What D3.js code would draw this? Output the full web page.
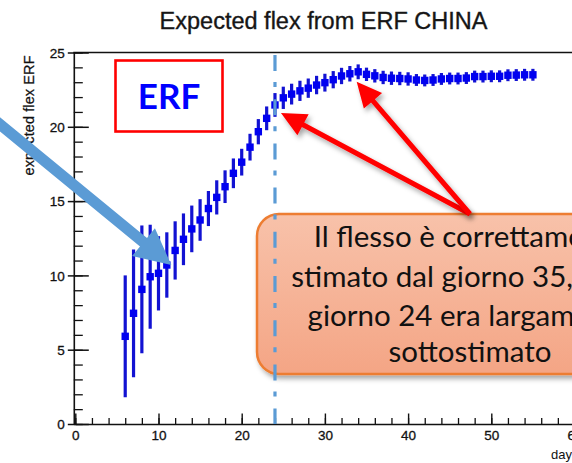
<!DOCTYPE html>
<html>
<head>
<meta charset="utf-8">
<script src="https://cdn.jsdelivr.net/npm/d3@7"></script>
<style>
  html, body { margin: 0; padding: 0; background: #fff; overflow: hidden; }
  svg { display: block; }
</style>
</head>
<body>
<svg id="chart" width="572" height="463"></svg>
<script>
// Expected inflection day fitted with an ERF model, one estimate per day of data
const days = [6, 7, 8, 9, 10, 11, 12, 13, 14, 15, 16, 17, 18, 19, 20, 21, 22, 23, 24, 25,
              26, 27, 28, 29, 30, 31, 32, 33, 34, 35, 36, 37, 38, 39, 40, 41, 42, 43, 44, 45,
              46, 47, 48, 49, 50, 51, 52, 53, 54, 55];
const flexValues = [5.9, 7.45, 9.06, 9.91, 10.14, 10.7, 11.68, 12.43, 13.13, 13.73,
                    14.5, 15.25, 15.97, 16.87, 17.62, 18.63, 19.67, 20.57, 21.47, 21.95,
                    22.2, 22.42, 22.6, 22.81, 22.97, 23.17, 23.42, 23.57, 23.7, 23.53,
                    23.43, 23.32, 23.27, 23.25, 23.22, 23.15, 23.12, 23.15, 23.22, 23.25,
                    23.25, 23.28, 23.38, 23.38, 23.4, 23.4, 23.47, 23.48, 23.5, 23.5];
const flexErrors = [4.1, 4.3, 4.3, 3.5, 2.5, 2.2, 1.96, 1.74, 1.57, 1.4,
                    1.18, 1.15, 1.1, 1.0, 0.9, 0.9, 0.85, 0.8, 0.8, 0.75,
                    0.7, 0.68, 0.65, 0.62, 0.6, 0.58, 0.55, 0.52, 0.5, 0.45,
                    0.45, 0.45, 0.45, 0.45, 0.45, 0.4, 0.4, 0.4, 0.4, 0.4,
                    0.4, 0.4, 0.4, 0.4, 0.4, 0.4, 0.4, 0.4, 0.4, 0.4];

const xMajorTicks = [0, 10, 20, 30, 40, 50, 60];
const yMajorTicks = [0, 5, 10, 15, 20, 25];

const titleText = "Expected flex from ERF CHINA";
const yTitleText = "expected flex ERF";
const xTitleText = "days";
const badgeText = "ERF";
const noteLines = ["Il flesso è correttamente",
                   "stimato dal giorno 35, ma al",
                   "giorno 24 era largamente",
                   "sottostimato"];

// Day of the early (underestimated) fit and of the stable estimate
const earlyDay = 24;
const stableDay = 34;
const arrowDay = 11;

const svg = d3.select("#chart");
const x = d3.scaleLinear().domain([0, 60]).range([75.3, 574.5]);
const y = d3.scaleLinear().domain([0, 25]).range([424, 52.5]);

const defs = svg.append("defs");
const shadow = defs.append("filter").attr("id", "shadow")
  .attr("x", "-20%").attr("y", "-20%").attr("width", "140%").attr("height", "150%");
shadow.append("feDropShadow").attr("dx", 2.5).attr("dy", 3.5)
  .attr("stdDeviation", 2.5).attr("flood-color", "#000").attr("flood-opacity", 0.35);

const grad = defs.append("linearGradient").attr("id", "noteFill")
  .attr("x1", 0).attr("y1", 0).attr("x2", 0).attr("y2", 1);
grad.append("stop").attr("offset", "0%").attr("stop-color", "#f8c2aa");
grad.append("stop").attr("offset", "100%").attr("stop-color", "#f4a585");

// Title
svg.append("text")
  .attr("x", 323.5).attr("y", 28.5)
  .attr("text-anchor", "middle")
  .attr("font-family", "Liberation Sans, Arial, sans-serif")
  .attr("font-size", 23.5)
  .attr("fill", "#161616")
  .attr("stroke", "#161616").attr("stroke-width", 0.35)
  .text(titleText);

// Frame top edge
svg.append("line")
  .attr("x1", x(0) - 2).attr("x2", 572)
  .attr("y1", y(25)).attr("y2", y(25))
  .attr("stroke", "#111").attr("stroke-width", 1.3);

const axisFont = g => g.selectAll("text")
  .attr("font-family", "Liberation Sans, Arial, sans-serif")
  .attr("font-size", 13.5)
  .attr("fill", "#111")
  .attr("stroke", "#111").attr("stroke-width", 0.3);

// X axis: minor ticks every 2 days, labelled majors every 10
svg.append("g")
  .attr("transform", `translate(0,${y(0)})`)
  .call(d3.axisBottom(x).tickValues(d3.range(0, 61, 2)).tickSize(-6).tickSizeOuter(0).tickFormat(""))
  .call(g => g.select(".domain").remove())
  .call(g => g.selectAll("line").attr("stroke", "#111").attr("stroke-width", 1.3));
svg.append("g")
  .attr("transform", `translate(0,${y(0)})`)
  .call(d3.axisBottom(x).tickValues(xMajorTicks).tickSize(-10.5).tickSizeOuter(0).tickPadding(6).tickFormat(d3.format("d")))
  .call(g => g.select(".domain").attr("stroke", "#111").attr("stroke-width", 1.6))
  .call(g => g.selectAll("line").attr("stroke", "#111").attr("stroke-width", 1.4))
  .call(axisFont);

// Y axis: minor ticks every unit, labelled majors every 5 (majors cross the axis)
svg.append("g")
  .attr("transform", `translate(${x(0) - 1.5},0)`)
  .call(d3.axisLeft(y).tickValues(d3.range(0, 26, 1)).tickSize(-9).tickSizeOuter(0).tickFormat(""))
  .call(g => g.select(".domain").remove())
  .call(g => g.selectAll("line").attr("stroke", "#111").attr("stroke-width", 1.3));
svg.append("g")
  .attr("transform", `translate(${x(0) - 1.5},0)`)
  .call(d3.axisLeft(y).tickValues(yMajorTicks).tickSize(-15).tickSizeOuter(0).tickPadding(9).tickFormat(d3.format("d")))
  .call(g => g.select(".domain").attr("stroke", "#111").attr("stroke-width", 1.6))
  .call(g => g.selectAll("line").attr("x1", -6).attr("stroke", "#111").attr("stroke-width", 1.5))
  .call(axisFont)
  .call(g => g.selectAll("text").attr("dy", "0.36em"));

// Axis titles
svg.append("text")
  .attr("transform", `translate(33.5,${y(25) + 3}) rotate(-90)`)
  .attr("text-anchor", "end")
  .attr("font-family", "Liberation Sans, Arial, sans-serif")
  .attr("font-size", 14.5)
  .attr("textLength", 120)
  .attr("fill", "#111")
  .attr("stroke", "#111").attr("stroke-width", 0.25)
  .text(yTitleText);
svg.append("text")
  .attr("x", 551).attr("y", 459)
  .attr("font-family", "Liberation Sans, Arial, sans-serif")
  .attr("font-size", 13)
  .attr("fill", "#111")
  .text(xTitleText);

// Data: error bars and square markers
const points = days.map((d, i) => ({ day: d, v: flexValues[i], e: flexErrors[i] }));
const dataG = svg.append("g");
dataG.selectAll("line.err").data(points).join("line")
  .attr("class", "err")
  .attr("x1", d => x(d.day)).attr("x2", d => x(d.day))
  .attr("y1", d => y(d.v - d.e)).attr("y2", d => y(d.v + d.e))
  .attr("stroke", "#1212d2").attr("stroke-width", 3.2);
dataG.selectAll("rect.mk").data(points).join("rect")
  .attr("class", "mk")
  .attr("x", d => x(d.day) - 3.7).attr("y", d => y(d.v) - 3.7)
  .attr("width", 7.4).attr("height", 7.4)
  .attr("fill", "#0000f0");

// "ERF" badge
svg.append("rect")
  .attr("x", 115.5).attr("y", 60.5).attr("width", 107).attr("height", 71)
  .attr("fill", "#fff").attr("stroke", "#ff0000").attr("stroke-width", 2.6);
svg.append("text")
  .attr("x", 169).attr("y", 109)
  .attr("text-anchor", "middle")
  .attr("font-family", "Lato, 'Open Sans', sans-serif")
  .attr("font-weight", "bold")
  .attr("font-size", 35)
  .attr("fill", "#0000ff")
  .text(badgeText);

// Callout box
svg.append("rect")
  .attr("x", 257).attr("y", 214).attr("width", 430).attr("height", 160)
  .attr("rx", 22).attr("ry", 22)
  .attr("fill", "url(#noteFill)")
  .attr("stroke", "#ed7d31").attr("stroke-width", 2.5)
  .attr("filter", "url(#shadow)");
const noteBaselines = [247, 287, 326, 362];
svg.append("g").selectAll("text").data(noteLines).join("text")
  .attr("x", 470).attr("y", (d, i) => noteBaselines[i])
  .attr("text-anchor", "middle")
  .attr("font-family", "Lato, 'Open Sans', sans-serif")
  .attr("font-size", 29.5)
  .attr("fill", "#111")
  .text(d => d);

// Dash-dot marker at the early-fit day
svg.append("line")
  .attr("x1", x(earlyDay)).attr("x2", x(earlyDay))
  .attr("y1", 55).attr("y2", y(0))
  .attr("stroke", "#5b9bd5").attr("stroke-width", 3.2)
  .attr("stroke-dasharray", "16,11,5,12.2");

// Arrow helper: shaft plus triangular head
function arrow(g, x0, y0, x1, y1, opt) {
  const dx = x1 - x0, dy = y1 - y0, len = Math.hypot(dx, dy);
  const ux = dx / len, uy = dy / len, nx = -uy, ny = ux;
  const bx = x1 - ux * opt.head, by = y1 - uy * opt.head;
  const hw = opt.width / 2;
  const path = d3.path();
  path.moveTo(x0 + nx * hw, y0 + ny * hw);
  path.lineTo(bx + nx * hw, by + ny * hw);
  path.lineTo(bx + nx * opt.half, by + ny * opt.half);
  path.lineTo(x1, y1);
  path.lineTo(bx - nx * opt.half, by - ny * opt.half);
  path.lineTo(bx - nx * hw, by - ny * hw);
  path.lineTo(x0 - nx * hw, y0 - ny * hw);
  path.closePath();
  g.append("path").attr("d", path.toString())
    .attr("fill", opt.color)
    .attr("filter", opt.shadow ? "url(#shadow)" : null);
}

// Red arrows from the callout to the two estimates
const redG = svg.append("g");
const base = [470, 214];
arrow(redG, base[0], base[1], x(earlyDay) + 6, y(flexValues[days.indexOf(earlyDay)]) + 8,
      { width: 5, head: 25, half: 12, color: "#ff0000", shadow: true });
arrow(redG, base[0], base[1], x(stableDay) - 1.5, y(flexValues[days.indexOf(stableDay)]) + 10,
      { width: 5, head: 25, half: 12, color: "#ff0000", shadow: true });

// Blue arrow pointing at the early, poorly constrained fits
arrow(svg.append("g"), -15, 112, x(arrowDay) + 4.5, y(flexValues[days.indexOf(arrowDay)]),
      { width: 11, head: 36, half: 18, color: "#5b9bd5", shadow: false });
</script>
</body>
</html>
